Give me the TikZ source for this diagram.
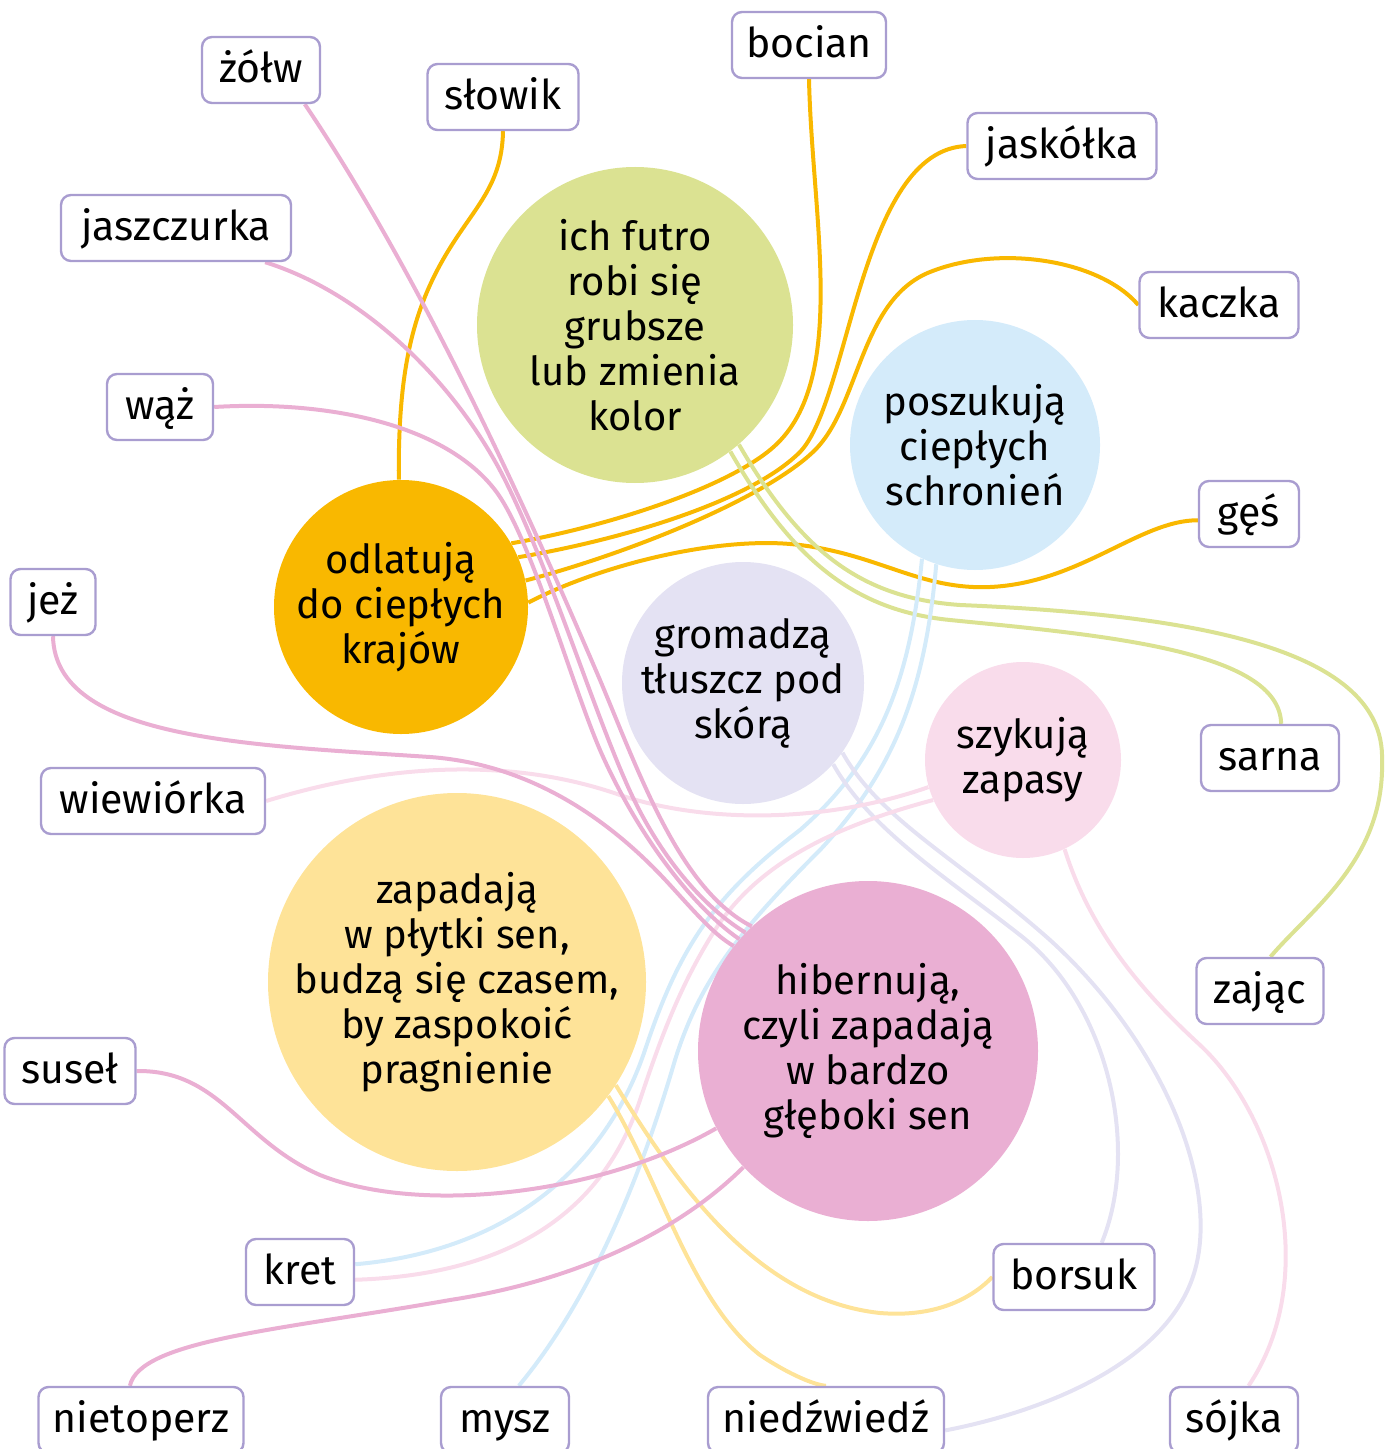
\documentclass[tikz,border=0pt]{standalone}
\usepackage{fontspec}
\setmainfont{Fira Sans}
\usetikzlibrary{backgrounds}

\definecolor{odlcol}{HTML}{F9B800}
\definecolor{futcol}{HTML}{DBE292}
\definecolor{poscol}{HTML}{D4EBFA}
\definecolor{gromcol}{HTML}{E4E2F3}
\definecolor{szykcol}{HTML}{F9DCEB}
\definecolor{zapcol}{HTML}{FEE398}
\definecolor{hibcol}{HTML}{EAAFD3}
\definecolor{boxline}{HTML}{A99DD0}

\tikzset{
  category/.style={circle, inner sep=-15pt, align=center, font=\fontsize{20pt}{22.5pt}\selectfont},
  animal/.style={draw=boxline, line width=1.2pt, rounded corners=5pt, fill=white, minimum height=33pt, inner sep=0pt, text height=16.5pt, text depth=4pt, font=\fontsize{20.5pt}{24pt}\selectfont},
  link/.style={line width=2pt},
}

\begin{document}
\begin{tikzpicture}[x=0.5pt, y=-0.5pt]
    \useasboundingbox (0,0) rectangle (1388,1449);

    \node[category, fill=futcol, minimum size=158pt] (futro) at (635,325) {ich futro\\robi się\\grubsze\\lub zmienia\\kolor};
    \node[category, fill=poscol, minimum size=125pt] (posz) at (975,445) {poszukują\\ciepłych\\schronień};
    \node[category, fill=odlcol, minimum size=127pt] (odl) at (401,607) {odlatują\\do ciepłych\\krajów};
    \node[category, fill=gromcol, minimum size=121pt] (grom) at (743,683) {gromadzą\\tłuszcz pod\\skórą};
    \node[category, fill=szykcol, minimum size=98pt] (szyk) at (1023,760) {szykują\\zapasy};
    \node[category, fill=zapcol, minimum size=189pt] (zap) at (457,982) {zapadają\\w płytki sen,\\budzą się czasem,\\by zaspokoić\\pragnienie};
    \node[category, fill=hibcol, minimum size=170pt] (hib) at (868,1051) {hibernują,\\czyli zapadają\\w bardzo\\głęboki sen};

    \node[animal, minimum width=59pt] (zolw) at (261,70) {żółw};
    \node[animal, minimum width=75.5pt] (slowik) at (503,97) {słowik};
    \node[animal, minimum width=77pt] (bocian) at (809,45) {bocian};
    \node[animal, minimum width=94.5pt] (jaskolka) at (1062,146) {jaskółka};
    \node[animal, minimum width=115pt] (jaszcz) at (176,228) {jaszczurka};
    \node[animal, minimum width=79.5pt] (kaczka) at (1219,305) {kaczka};
    \node[animal, minimum width=53pt] (waz) at (160,407) {wąż};
    \node[animal, minimum width=50pt] (gess) at (1249,514) {gęś};
    \node[animal, minimum width=42.5pt] (jez) at (53,602) {jeż};
    \node[animal, minimum width=69pt] (sarna) at (1270,758) {sarna};
    \node[animal, minimum width=112pt] (wiew) at (153,801) {wiewiórka};
    \node[animal, minimum width=63.5pt] (zajac) at (1260,991) {zając};
    \node[animal, minimum width=65.5pt] (susel) at (70,1071) {suseł};
    \node[animal, minimum width=54pt] (kret) at (300,1272) {kret};
    \node[animal, minimum width=80.5pt] (borsuk) at (1074,1277) {borsuk};
    \node[animal, minimum width=102.5pt] (nietop) at (141,1420) {nietoperz};
    \node[animal, minimum width=64pt] (mysz) at (505,1420) {mysz};
    \node[animal, minimum width=118pt] (niedzw) at (826,1420) {niedźwiedź};
    \node[animal, minimum width=64pt] (sojka) at (1234,1420) {sójka};

    \begin{scope}[on background layer]
    \draw[link, odlcol] (odl.91) .. controls (398,380) and (410,320) .. (440,265) .. controls (470,210) and (502,190) .. (slowik.south);
    \draw[link, odlcol] (odl.30) .. controls (600,528) and (720,491) .. (770,450) .. controls (850,385) and (812,220) .. (bocian.south);
    \draw[link, odlcol] (odl.23) .. controls (620,540) and (750,502) .. (800,452) .. controls (850,400) and (860,150) .. (jaskolka.west);
    \draw[link, odlcol] (odl.12) .. controls (640,550) and (770,495) .. (815,450) .. controls (860,405) and (860,300) .. (930,272) .. controls (1000,244) and (1100,260) .. (kaczka.west);
    \draw[link, odlcol] (odl.2) .. controls (600,565) and (720,535) .. (800,545) .. controls (880,555) and (920,590) .. (990,587) .. controls (1080,583) and (1140,520) .. (gess.187);

    \draw[link, futcol] (futro.-53) .. controls (790,555) and (850,610) .. (950,620) .. controls (1100,635) and (1280,650) .. (sarna.72);
    \draw[link, futcol] (futro.-49) .. controls (800,550) and (860,598) .. (960,605) .. controls (1200,615) and (1385,650) .. (1382,760) .. controls (1385,860) and (1310,910) .. (zajac.73);

    \draw[link, poscol] (posz.-115) .. controls (910,680) and (880,760) .. (800,830) .. controls (715,895) and (680,945) .. (645,1050) .. controls (610,1155) and (520,1250) .. (kret.8);
    \draw[link, poscol] (posz.-108) .. controls (925,690) and (895,770) .. (820,850) .. controls (740,930) and (700,980) .. (675,1060) .. controls (640,1180) and (590,1300) .. (mysz.68);

    \draw[link, gromcol] (grom.-42) .. controls (870,830) and (950,880) .. (1020,935) .. controls (1110,1005) and (1140,1150) .. (borsuk.51);
    \draw[link, gromcol] (grom.-35) .. controls (880,820) and (960,860) .. (1050,940) .. controls (1160,1040) and (1220,1180) .. (1195,1270) .. controls (1170,1360) and (1050,1410) .. (niedzw.-5);

    \draw[link, szykcol] (wiew.east) .. controls (400,760) and (520,760) .. (620,795) .. controls (700,822) and (820,825) .. (szyk.196);
    \draw[link, szykcol] (szyk.204) .. controls (840,825) and (760,860) .. (715,930) .. controls (680,985) and (660,1040) .. (640,1100) .. controls (600,1220) and (500,1275) .. (kret.-8);
    \draw[link, szykcol] (szyk.-65) .. controls (1090,930) and (1140,990) .. (1200,1045) .. controls (1280,1120) and (1320,1280) .. (sojka.67);

    \draw[link, zapcol] (zap.-33) .. controls (680,1190) and (760,1300) .. (880,1313) .. controls (940,1318) and (975,1295) .. (borsuk.west);
    \draw[link, zapcol] (zap.-37) .. controls (660,1180) and (690,1300) .. (760,1355) .. controls (790,1375) and (815,1385) .. (niedzw.north);

    \draw[link, hibcol] (zolw.-38) .. controls (430,290) and (540,540) .. (600,680) .. controls (640,775) and (680,890) .. (hib.133);
    \draw[link, hibcol] (jaszcz.-21) .. controls (370,295) and (460,390) .. (505,480) .. controls (550,570) and (590,700) .. (625,780) .. controls (655,850) and (700,905) .. (hib.136);
    \draw[link, hibcol] (waz.east) .. controls (330,400) and (445,425) .. (495,490) .. controls (530,535) and (570,680) .. (600,750) .. controls (635,830) and (690,905) .. (hib.139);
    \draw[link, hibcol] (jez.south) .. controls (55,740) and (250,745) .. (430,757) .. controls (540,765) and (620,830) .. (670,885) .. controls (700,918) and (715,935) .. (hib.142);
    \draw[link, hibcol] (susel.east) .. controls (220,1070) and (240,1140) .. (320,1175) .. controls (420,1215) and (600,1195) .. (hib.207);
    \draw[link, hibcol] (nietop.108) .. controls (140,1340) and (280,1330) .. (450,1300) .. controls (580,1280) and (680,1230) .. (hib.223);
    \end{scope}
\end{tikzpicture}
\end{document}
